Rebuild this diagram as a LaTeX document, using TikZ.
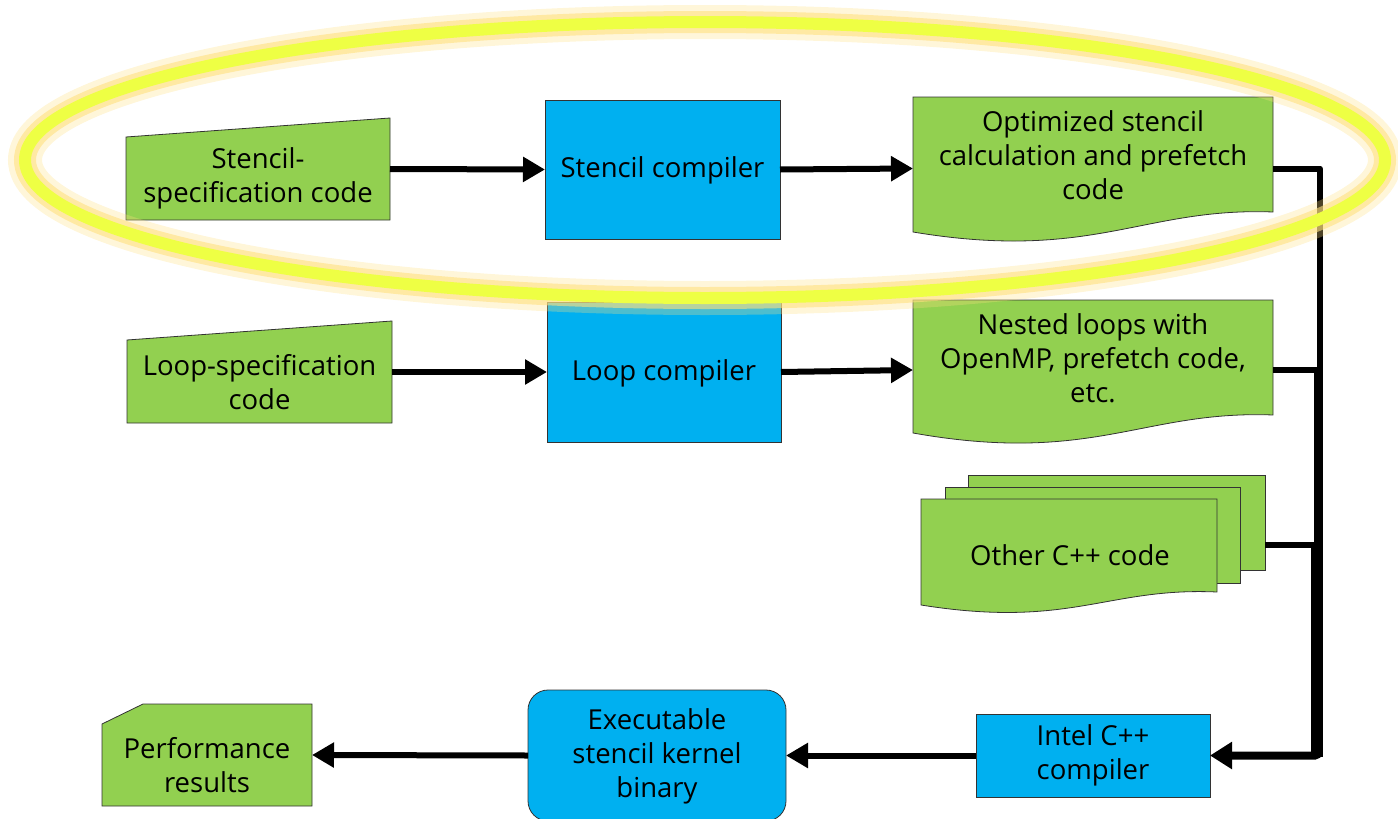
\documentclass[tikz,border=0pt]{standalone}
\usepackage{fontspec}
\setmainfont{Open Sans}
\usetikzlibrary{arrows.meta,calc}
\definecolor{cgreen}{HTML}{92D050}
\definecolor{cblue}{HTML}{00B0F0}
\definecolor{hlyellow}{HTML}{EEFF44}
\definecolor{hlglow}{HTML}{FFE080}
\tikzset{
  area/.style={draw=none,inner sep=0pt,outer sep=0pt},
  gshape/.style={fill=cgreen,draw=black!80,line width=0.8pt},
  bshape/.style={fill=cblue,draw=black!80,line width=0.8pt},
  lbl/.style={align=center,font=\fontsize{27.5}{34}\selectfont,inner sep=0pt},
  flow/.style={line width=6pt,-{Triangle[length=22pt,width=24pt]}},
  busline/.style={line width=6pt,line join=round},
}
\begin{document}
\begin{tikzpicture}[x=1pt,y=-1pt]
\useasboundingbox (0,0) rectangle (1398,819);
% ---- area nodes
\node[area,minimum width=264pt,minimum height=102pt] (sspec) at (258,169) {};
\node[area,minimum width=235pt,minimum height=139pt] (scomp) at (662.5,169.5) {};
\node[area,minimum width=360pt,minimum height=143pt] (opt) at (1093,168.5) {};
\node[area,minimum width=265pt,minimum height=102pt] (lspec) at (259.5,372) {};
\node[area,minimum width=234pt,minimum height=140pt] (lcomp) at (664,372) {};
\node[area,minimum width=360pt,minimum height=140pt] (nest) at (1093,370) {};
\node[area,minimum width=297pt,minimum height=95pt] (oth3) at (1116.5,522.5) {};
\node[area,minimum width=295pt,minimum height=96pt] (oth2) at (1092.5,535) {};
\node[area,minimum width=296pt,minimum height=113pt] (oth1) at (1069,555.5) {};
\node[area,minimum width=210pt,minimum height=102pt] (perf) at (207,755) {};
\node[area,minimum width=258pt,minimum height=131pt] (exec) at (657,755.5) {};
\node[area,minimum width=234pt,minimum height=83pt] (intel) at (1093,755.5) {};
% ---- shapes
\draw[gshape] (sspec.south west) -- (sspec.south east) -- (sspec.north east) -- ($(sspec.north west)+(0,19)$) -- cycle;
\draw[bshape] (scomp.south west) rectangle (scomp.north east);
\draw[gshape] (opt.north west) -- (opt.north east) -- ($(opt.north east)+(0,115)$)
   .. controls ($(opt.north east)+(-130,110)$) and ($(opt.north west)+(180,165)$) .. ($(opt.north west)+(0,135)$) -- cycle;
\draw[gshape] (lspec.south west) -- (lspec.south east) -- (lspec.north east) -- ($(lspec.north west)+(0,19)$) -- cycle;
\draw[bshape] (lcomp.south west) rectangle (lcomp.north east);
\draw[gshape] (nest.north west) -- (nest.north east) -- ($(nest.north east)+(0,115)$)
   .. controls ($(nest.north east)+(-130,110)$) and ($(nest.north west)+(180,165)$) .. ($(nest.north west)+(0,133)$) -- cycle;
\draw[gshape] (oth3.south west) rectangle (oth3.north east);
\draw[gshape] (oth2.south west) rectangle (oth2.north east);
\draw[gshape] (oth1.north west) -- (oth1.north east) -- ($(oth1.north east)+(0,93)$)
   .. controls ($(oth1.north east)+(-110,88)$) and ($(oth1.north west)+(150,130)$) .. ($(oth1.north west)+(0,106)$) -- cycle;
\draw[gshape] (perf.south west) -- (perf.south east) -- (perf.north east) -- ($(perf.north west)+(41,0)$) -- ($(perf.north west)+(0,20)$) -- cycle;
\draw[bshape,rounded corners=20pt] (exec.south west) rectangle (exec.north east);
\draw[bshape] (intel.south west) rectangle (intel.north east);
% ---- labels
\node[lbl] (tsspec) at (258,178) {Stencil-\\specification code};
\node[lbl] (tscomp) at (662.5,170) {Stencil compiler};
\node[lbl] (topt) at (1093,155) {Optimized stencil\\calculation and prefetch\\code};
\node[lbl] (tlspec) at (259.5,382) {Loop-specification\\code};
\node[lbl] (tlcomp) at (664,373) {Loop compiler};
\node[lbl] (tnest) at (1093,358) {Nested loops with\\OpenMP, prefetch code,\\etc.};
\node[lbl] (toth) at (1070,555) {Other C++ code};
\node[lbl] (tperf) at (207,765) {Performance\\results};
\node[lbl] (texec) at (657,756) {Executable\\stencil kernel\\binary};
\node[lbl] (tintel) at (1093,755) {Intel C++\\compiler};
% ---- connectors
\draw[flow] (sspec.east) -- (scomp.west);
\draw[flow] (scomp.east) -- (opt.west);
\draw[flow] (lspec.east) -- (lcomp.west);
\draw[flow] (lcomp.east) -- (nest.west);
\coordinate (busA) at (1320,757);
\coordinate (busB) at (1317,757);
\coordinate (busC) at (1314,757);
\coordinate (othout) at ($(oth3.south east)+(0,-25)$);
\coordinate (busjoin) at (1318,700);
\draw[busline] (opt.east) -| (busA);
\draw[busline] (nest.east) -| (busB);
\draw[busline] (othout) -| (busC);
\draw[line width=8pt,-{Triangle[length=22pt,width=26pt]},rounded corners=3pt] (busjoin) |- (intel.east);
\draw[flow] (intel.west) -- (exec.east);
\draw[flow] (exec.west) -- (perf.east);
% ---- highlight ellipse
\coordinate (hl) at (705,160);
\draw[hlglow,opacity=0.3,line width=34pt] (hl) ellipse [x radius=680pt,y radius=138pt];
\draw[hlglow,opacity=0.6,line width=22pt] (hl) ellipse [x radius=680pt,y radius=138pt];
\draw[hlyellow,line width=12pt] (hl) ellipse [x radius=680pt,y radius=138pt];
\end{tikzpicture}
\end{document}
